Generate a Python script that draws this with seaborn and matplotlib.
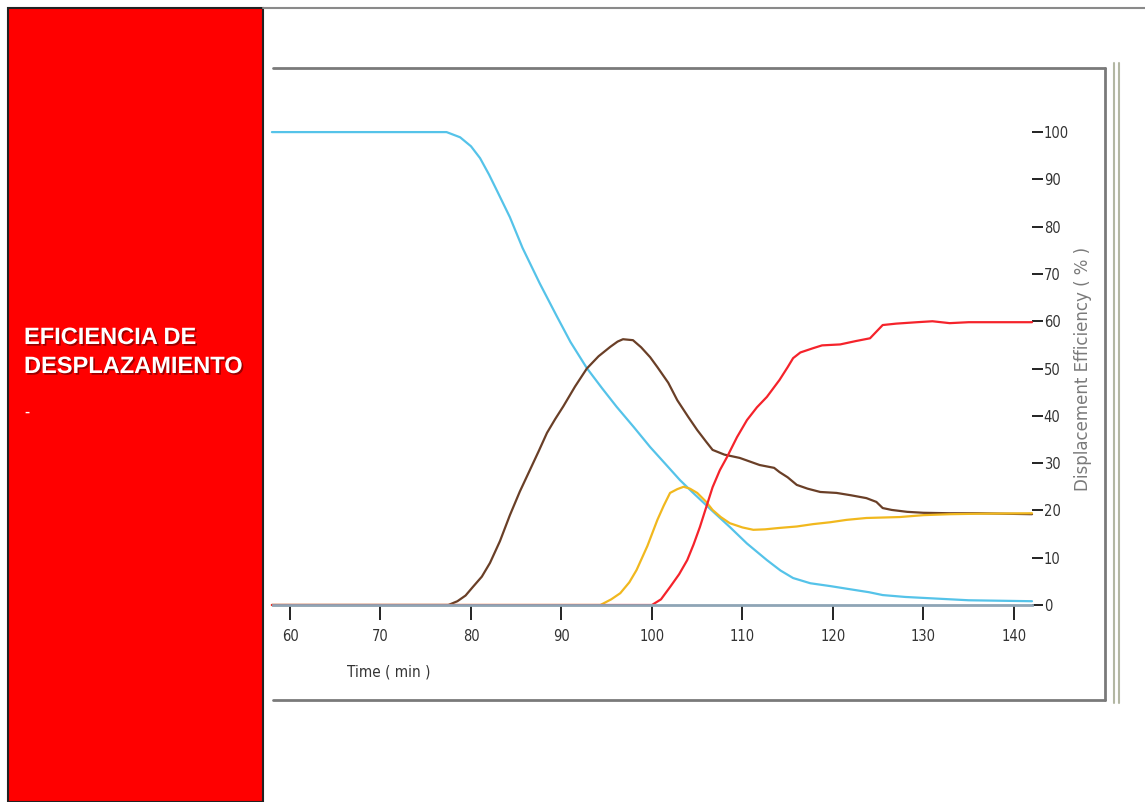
import matplotlib
matplotlib.use("Agg")
import matplotlib.pyplot as plt
import seaborn as sns
import pandas as pd
from matplotlib.lines import Line2D
from matplotlib.patches import Rectangle
import matplotlib.patheffects as pe
from matplotlib import font_manager as fm

# ---------------- data ----------------
blue_t = [58, 77.3, 78.8, 80, 81, 82, 82.9, 84.3, 85.7, 87.6, 89.5, 91, 92.8, 94.5, 96.1, 98,
          99.8, 101.5, 103.1, 104.5, 106.5, 108.6, 110.5, 112.7, 114.2, 115.6, 117.5, 119.7,
          122, 124, 125.5, 128, 131, 135, 142]
blue_v = [100, 100, 98.9, 97, 94.5, 91, 87.5, 82, 75.5, 68, 61, 55.6, 50.1, 45.8, 41.9, 37.6,
          33.4, 29.8, 26.4, 23.8, 20.2, 16.5, 13, 9.5, 7.3, 5.7, 4.6, 4.0,
          3.3, 2.7, 2.1, 1.7, 1.4, 1.0, 0.8]

brown_t = [58, 77.5, 78.5, 79.4, 80.2, 81.2, 82.1, 83.2, 84.3, 85.4, 86.5, 87.5, 88.4, 89.3,
           90.2, 91.5, 92.8, 94.1, 95.4, 96.2, 96.8, 97.9, 98.8, 99.8, 100.6, 101.8, 102.8,
           104, 105, 106, 106.7, 108, 109.7, 111.9, 113.5, 114.1, 115, 116, 117.2, 118.6,
           120.4, 122, 123.7, 124.8, 125.5, 126.5, 128.2, 130, 132.9, 136, 142]
brown_v = [0, 0, 0.8, 2.0, 3.8, 6.0, 8.9, 13.5, 19.0, 24.0, 28.5, 32.6, 36.4, 39.3,
           42.0, 46.2, 50.0, 52.6, 54.6, 55.7, 56.2, 56.0, 54.5, 52.4, 50.3, 47, 43.3,
           39.8, 37, 34.5, 32.8, 31.8, 31.1, 29.6, 29.0, 28.1, 27, 25.4, 24.6, 23.9,
           23.7, 23.2, 22.6, 21.8, 20.5, 20.1, 19.7, 19.5, 19.4, 19.4, 19.2]

yellow_t = [58, 94.3, 95.5, 96.5, 97.5, 98.3, 99.5, 100.6, 101.3, 102, 102.8, 103.5, 104.2,
            105, 106, 106.7, 107.6, 108.6, 110, 111.2, 112.5, 114.1, 116, 117.8, 119.7, 121.5,
            123.7, 127.4, 130, 132.9, 136, 142]
yellow_v = [0, 0, 1.2, 2.5, 4.8, 7.4, 12.5, 18, 21, 23.7, 24.5, 25, 24.6,
            23.7, 21.8, 20.1, 18.6, 17.3, 16.4, 15.9, 16, 16.3, 16.6, 17.1, 17.5, 18,
            18.4, 18.6, 19, 19.2, 19.3, 19.4]

red_t = [58, 100, 101, 102, 103, 103.9, 104.6, 105.3, 106, 106.7, 107.5, 108.3, 109.4, 110.5,
         111.6, 112.7, 113.4, 114.1, 115, 115.6, 116.4, 117.8, 118.8, 120.8, 122.5, 124.1,
         124.8, 125.5, 127, 129.3, 131, 132.9, 135, 142]
red_v = [0, 0, 1.2, 3.8, 6.5, 9.5, 12.8, 16.5, 20.7, 24.9, 28.5, 31.3, 35.5, 39.1,
         41.8, 44, 45.8, 47.6, 50.3, 52.2, 53.4, 54.3, 54.9, 55.1, 55.8, 56.4,
         57.8, 59.2, 59.5, 59.8, 60, 59.6, 59.8, 59.8]

x_ticks = [60, 70, 80, 90, 100, 110, 120, 130, 140]
y_ticks = [0, 10, 20, 30, 40, 50, 60, 70, 80, 90, 100]

series = [
    ("blue", blue_t, blue_v, "#55c3e9"),
    ("brown", brown_t, brown_v, "#6a3f27"),
    ("yellow", yellow_t, yellow_v, "#f1b81e"),
    ("red", red_t, red_v, "#f5232b"),
]

# ---------------- figure ----------------
sns.set_theme(style="white")
plt.rcParams["font.family"] = ["DejaVu Sans"]

# condensed face for tick labels if available
cond_file = None
for f in fm.fontManager.ttflist:
    if f.name == "DejaVu Sans" and "ondensed" in f.fname and f.weight in (400, "normal") \
            and f.style == "normal":
        cond_file = f.fname
        break
if cond_file:
    tick_fp = fm.FontProperties(fname=cond_file, size=10.5)
else:
    tick_fp = fm.FontProperties(family="DejaVu Sans", stretch="condensed", size=10)

W, H = 1145, 802
fig = plt.figure(figsize=(W / 100, H / 100), dpi=100)
fig.patch.set_facecolor("white")

def fx(px):
    return px / W

def fy(py):
    return 1 - py / H

# axes placed so that x=273..1032 px, y(0)=605 px, y(101.5)=125 px
ax = fig.add_axes([fx(273), fy(605), fx(1032) - fx(273), (605 - 125) / H])
ax.set_facecolor("none")

for name, t, v, c in series:
    df = pd.DataFrame({"t": t, "v": v})
    sns.lineplot(data=df, x="t", y="v", color=c, linewidth=1.6, ax=ax,
                 estimator=None, sort=False, clip_on=False)

ax.set_xlim(58.12, 142)
ax.set_ylim(0, 101.5)
ax.set_xticks(x_ticks)
ax.set_yticks(y_ticks)
ax.set_xlabel("")
ax.set_ylabel("")

for s in ["top", "left", "right"]:
    ax.spines[s].set_visible(False)
ax.spines["bottom"].set_color("#8ea5b6")
ax.spines["bottom"].set_linewidth(2.0)
ax.spines["bottom"].set_zorder(3)

ax.yaxis.tick_right()
ax.tick_params(axis="x", direction="out", length=11, width=1.4, color="#222222",
               pad=6, labelcolor="#333333", bottom=True)
ax.tick_params(axis="y", direction="out", length=8, width=1.4, color="#222222",
               pad=0.5, labelcolor="#333333", right=True, left=False)
for lab in ax.get_xticklabels() + ax.get_yticklabels():
    lab.set_fontproperties(tick_fp)

# axis titles
lab_fp = tick_fp.copy()
lab_fp.set_size(11)
fig.text(fx(389), fy(672), "Time ( min )", ha="center", va="center",
         fontproperties=lab_fp, color="#333333")
fig.text(fx(1083), fy(369), "Displacement Efficiency ( % )", ha="center", va="center",
         rotation=90, fontsize=12, color="#7a7a7a", family=["DejaVu Sans"])

# ---------------- slide decoration ----------------
fig.add_artist(Rectangle((fx(8), 0), fx(263) - fx(8), fy(8), transform=fig.transFigure,
                         facecolor="#ff0000", edgecolor="#222222", linewidth=1.5, zorder=0))
fig.add_artist(Line2D([fx(263), 1], [fy(8), fy(8)], transform=fig.transFigure,
                      color="#8a8a8a", linewidth=1.5))
# chart frame
frame_c = "#7a7a7a"
fig.add_artist(Line2D([fx(273), fx(1105)], [fy(68), fy(68)], transform=fig.transFigure,
                      color=frame_c, linewidth=2))
fig.add_artist(Line2D([fx(1105), fx(1105)], [fy(68), fy(700)], transform=fig.transFigure,
                      color=frame_c, linewidth=2))
fig.add_artist(Line2D([fx(273), fx(1105)], [fy(700), fy(700)], transform=fig.transFigure,
                      color=frame_c, linewidth=2))
for xx in (1114, 1119):
    fig.add_artist(Line2D([fx(xx), fx(xx)], [fy(63), fy(703)], transform=fig.transFigure,
                          color="#b3b7a3", linewidth=1.5))

shadow = [pe.withSimplePatchShadow(offset=(1.2, -1.2), shadow_rgbFace="#550000", alpha=0.6)]
fig.text(fx(24), fy(326), "EFICIENCIA DE", ha="left", va="top", color="white",
         fontsize=17, fontweight="bold", family=["Liberation Sans", "DejaVu Sans"],
         path_effects=shadow)
fig.text(fx(24), fy(355), "DESPLAZAMIENTO", ha="left", va="top", color="white",
         fontsize=17, fontweight="bold", family=["Liberation Sans", "DejaVu Sans"],
         path_effects=shadow)
fig.text(fx(24), fy(405), "-", ha="left", va="top", color="white",
         fontsize=11, fontweight="bold", family=["Liberation Sans", "DejaVu Sans"])

fig.savefig("out.png", dpi=100, facecolor="white")
